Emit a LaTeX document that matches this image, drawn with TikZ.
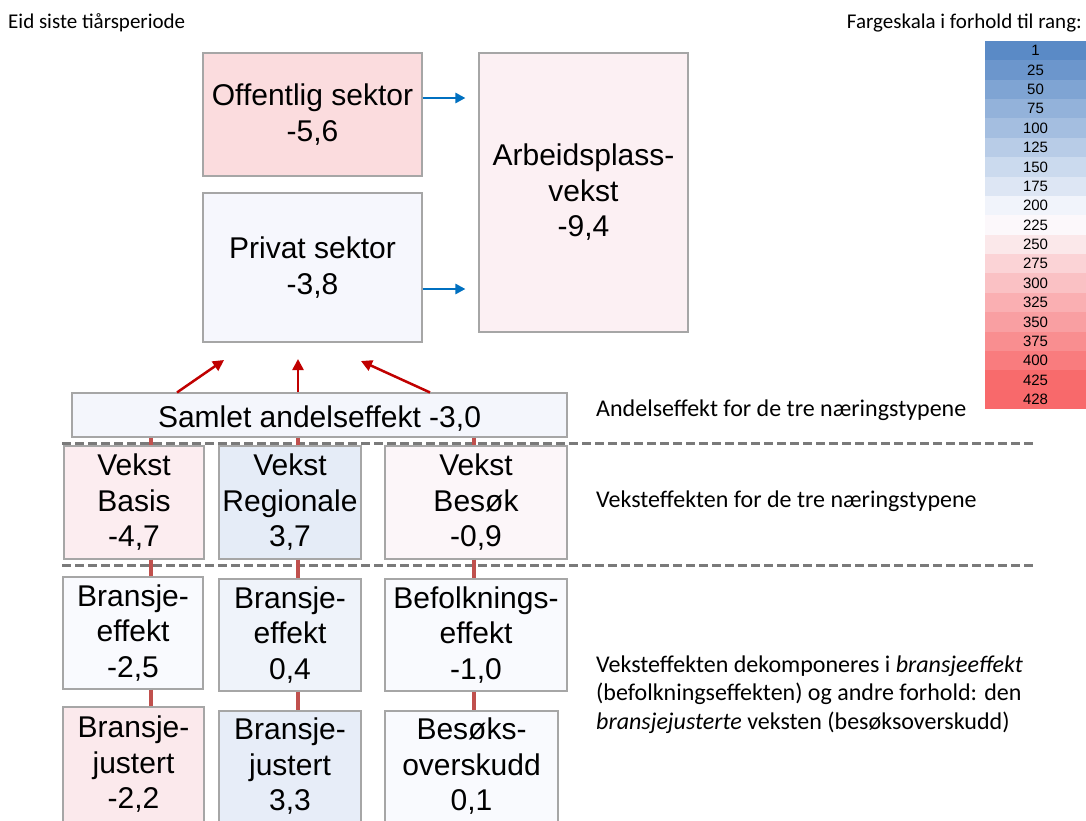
\documentclass[tikz,border=0pt]{standalone}
\usepackage{fontspec}
\setmainfont{Carlito}
\newfontfamily\boxfont{Liberation Sans}
\usetikzlibrary{arrows.meta}

\definecolor{scaleblue}{HTML}{5A8AC6}
\definecolor{scalewhite}{HTML}{FCFCFF}
\definecolor{scalered}{HTML}{F8696B}
\definecolor{boxline}{HTML}{A6A6A6}
\definecolor{feedblue}{HTML}{0070C0}
\definecolor{effred}{HTML}{C00000}
\definecolor{linkred}{HTML}{C0504D}
\definecolor{divgray}{HTML}{7A7A7A}

\begin{document}
\begin{tikzpicture}[x=1pt,y=-1pt,
    box/.style={draw=boxline, line width=1.1pt, align=center, inner sep=0pt,
        font=\boxfont\fontsize{30}{35.5}\selectfont},
    feed/.style={feedblue, line width=2.5pt, -{Triangle[length=10pt,width=10pt]}},
    effect/.style={effred, line width=2.5pt, -{Triangle[length=11pt,width=11pt]}},
    link/.style={linkred, line width=3.5pt},
    divider/.style={divgray, line width=3pt, dash pattern=on 9pt off 4pt},
    note/.style={anchor=base west, inner sep=0pt, align=left,
        font=\fontsize{24}{28.5}\selectfont},
    heading/.style={inner sep=0pt, font=\fontsize{21}{25}\selectfont}]

    \useasboundingbox (0,0) rectangle (1086,820);
    \clip (0,0) rectangle (1086,820);

    \node[heading, anchor=base west] (title) at (8,28) {Eid siste tiårsperiode};
    \node[heading, anchor=base east] (scaletitle) at (1082,28) {Fargeskala i forhold til rang:};

    \foreach \rank/\pct/\hue [count=\i from 0] in {1/100/scaleblue, 25/89/scaleblue,
        50/77/scaleblue, 75/65/scaleblue, 100/54/scaleblue, 125/42/scaleblue,
        150/30/scaleblue, 175/19/scaleblue, 200/7/scaleblue, 225/3/scalered,
        250/14/scalered, 275/28/scalered, 300/40/scalered, 325/52/scalered,
        350/63/scalered, 375/75/scalered, 400/87/scalered, 425/99/scalered,
        428/100/scalered} {
        \fill[\hue!\pct!scalewhite] (985,{41+19.37*\i}) rectangle (1086,{41+19.37*(\i+1)});
        \node[inner sep=0pt, font=\boxfont\fontsize{15}{15}\selectfont] (rk\i)
            at (1035.5,{41+19.37*(\i+0.5)}) {\rank};
    }

    \draw[divider] (62,443) -- (1035,443);
    \draw[divider] (62,565) -- (1035,565);

    \node[box, fill=scalered!22!scalewhite, minimum width=219pt, minimum height=123pt] (off)
        at (312.5,114.5) {Offentlig sektor\\-5,6};
    \node[box, fill=scaleblue!4!scalewhite, minimum width=219pt, minimum height=149pt] (priv)
        at (312.5,267.5) {Privat sektor\\-3,8};
    \node[box, fill=scalered!8!scalewhite, minimum width=209pt, minimum height=279pt] (arb)
        at (583.5,192.5) {Arbeidsplass-\\vekst\\-9,4};

    \node[box, fill=scaleblue!5!scalewhite, minimum width=495pt, minimum height=44pt,
        text height=24pt, text depth=0pt] (samlet) at (319.5,415) {Samlet andelseffekt -3,0};

    \node[box, fill=scalered!10!scalewhite, minimum width=140pt, minimum height=113pt] (vbas)
        at (134,502.5) {Vekst\\Basis\\-4,7};
    \node[box, fill=scaleblue!14!scalewhite, minimum width=142pt, minimum height=113pt] (vreg)
        at (290,502.5) {Vekst\\Regionale\\3,7};
    \node[box, fill=scalered!4!scalewhite, minimum width=182pt, minimum height=113pt] (vbes)
        at (476,502.5) {Vekst\\Besøk\\-0,9};

    \node[box, fill=scaleblue!2!scalewhite, minimum width=140pt, minimum height=112pt] (bbas)
        at (133,633) {Bransje-\\effekt\\-2,5};
    \node[box, fill=scaleblue!8!scalewhite, minimum width=142pt, minimum height=112pt] (breg)
        at (290,635) {Bransje-\\effekt\\0,4};
    \node[box, fill=scaleblue!2!scalewhite, minimum width=182pt, minimum height=112pt] (bbes)
        at (476,635) {Befolknings-\\effekt\\-1,0};

    \node[box, fill=scalered!13!scalewhite, minimum width=141pt, minimum height=115pt] (jbas)
        at (133.5,764.5) {Bransje-\\justert\\-2,2};
    \node[box, fill=scaleblue!13!scalewhite, minimum width=142pt, minimum height=111pt] (jreg)
        at (290,766.5) {Bransje-\\justert\\3,3};
    \node[box, fill=scaleblue!2!scalewhite, minimum width=173pt, minimum height=111pt] (jbes)
        at (471.5,766.5) {Besøks-\\overskudd\\0,1};

    \foreach \col/\xx in {bas/151, reg/298, bes/474} {
        \draw[link] (samlet.south -| \xx,0) -- (v\col.north -| \xx,0);
        \draw[link] (v\col.south -| \xx,0) -- (b\col.north -| \xx,0);
        \draw[link] (b\col.south -| \xx,0) -- (j\col.north -| \xx,0);
    }

    \coordinate (tipA) at (224,360);
    \coordinate (tipB) at (298,359);
    \coordinate (tipC) at (361,361);
    \draw[effect] (samlet.north -| 177,0) -- (tipA);
    \draw[effect] (samlet.north -| 298,0) -- (tipB);
    \draw[effect] (samlet.north -| 430,0) -- (tipC);

    \draw[feed, shorten >=13pt] (off.east |- 0,98) -- (arb.west |- 0,98);
    \draw[feed, shorten >=13pt] (priv.east |- 0,289) -- (arb.west |- 0,289);

    \node[note] (andnote) at (596,416) {Andelseffekt for de tre næringstypene};
    \node[note] (vekstnote) at (596,507) {Veksteffekten for de tre næringstypene};
    \node[note] (dekompnote) at (596,729) {Veksteffekten dekomponeres i \textit{bransjeeffekt}\\
        (befolkningseffekten) og andre forhold: den\\
        \textit{bransjejusterte} veksten (besøksoverskudd)};

\end{tikzpicture}
\end{document}
